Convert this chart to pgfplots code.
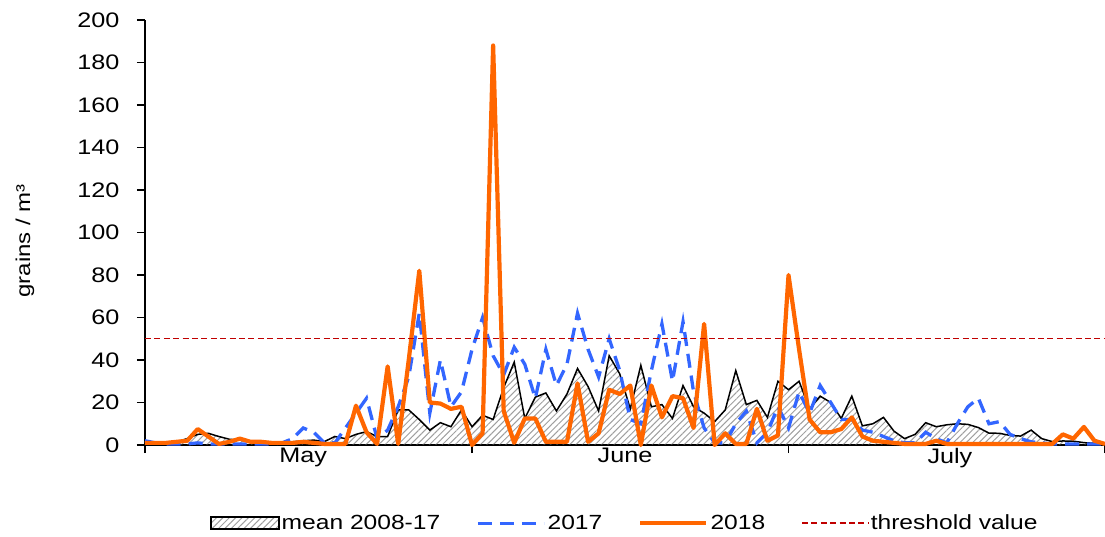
\documentclass[border=0pt]{standalone}
\usepackage{fontspec}
\setmainfont{Liberation Sans}
\newfontfamily\axisfont[FakeStretch=1.2]{Liberation Sans}
\usepackage{pgfplots}
\usepackage{pgfplotstable}
\pgfplotsset{compat=1.18}
\usetikzlibrary{patterns.meta}
\definecolor{cblue}{RGB}{51,102,255}
\definecolor{corange}{RGB}{255,102,0}
\definecolor{cred}{RGB}{192,0,0}
\pgfplotsset{
  mylinelegend/.style={legend image code/.code={\draw[##1] (0bp,0bp) -- (66bp,0bp);}},
  myarealegend/.style={legend image code/.code={\draw[##1] (0bp,-6bp) rectangle (68bp,6bp);}},
}

\pgfplotstableread{
d mean y2017 y2018
0 1 2 1
1 1.2 1 1
2 1.3 0.5 1
3 1.5 0.5 1.5
4 3 0.5 2
5 5 1 7.5
6 5.5 0.5 4
7 4 0.5 0.5
8 2.7 0.5 1.5
9 2.3 0.5 3
10 1.6 0.5 1.5
11 1.4 0.5 1.5
12 1.2 0.5 1
13 1.1 1 1
14 1.5 3 1
15 2 8 1.5
16 2.3 6 1
17 1.6 1 0.5
18 4 1 0.5
19 3 8 0.5
20 5 15 18.5
21 6.3 22 6
22 4 3 0.5
23 4 7 37
24 16.5 18 0.5
25 16.5 32 40
26 12 62 82
27 7 15 20
28 10.5 40 19.5
29 8.6 18 17
30 16.5 25 18
31 8.6 45 0
32 14 60 5.5
33 12 42 188
34 27 33 16
35 39 46 1
36 12.5 38 12.5
37 22.5 22 12.5
38 24.5 45 1.5
39 16 28 1.5
40 24 38 1.5
41 36 62 29
42 27.5 45 1.5
43 16 32 5.5
44 42 50 26
45 33.5 35 24
46 17 12 28
47 37.5 10 0
48 18 35 28
49 19 57 13
50 12.5 30 23
51 28 58 22
52 18 25 8
53 15 8 57
54 11 1 0
55 16.5 1 5.5
56 35 10 0.5
57 19 16 0.5
58 21 1 17
59 13 6 2
60 30 18 4.5
61 26 8 80
62 30 25 45
63 17 15 12
64 23 28 6
65 20 20 6
66 12.5 12 7.5
67 23 12 13
68 9 7 4
69 10 6 2
70 13 4 1.5
71 6.5 2 1
72 3 1 0.5
73 5 1 0.5
74 10.5 6 0.5
75 8.6 3 2
76 9.5 1 0.5
77 10 10 0.5
78 9.7 18 0.5
79 8.2 22 0.5
80 5.6 10 0.5
81 5.5 11 0.5
82 4.5 5 0.5
83 4.2 3 0.5
84 7 1.5 0.5
85 3 1 0.5
86 1.6 0.5 0.5
87 1.9 0.5 5
88 1.8 0.5 3
89 1.1 0.5 8.5
90 0.8 0.5 2
91 0.5 0.5 0.5
}\datatable

\begin{document}
\begin{tikzpicture}
\begin{axis}[
  name=ax,
  at={(0,0)}, anchor=south west,
  scale only axis,
  width=960bp, height=425bp,
  xmin=0, xmax=91, ymin=0, ymax=200,
  clip=false,
  axis lines=left,
  axis line style={-, line width=1.5bp, black},
  tick style={line width=1.5bp, black},
  tick align=outside,
  major tick length=8bp,
  xtick={0,31,61,91},
  xticklabels={},
  extra x ticks={15,45.5,76.3},
  extra x tick labels={May,June,July},
  extra x tick style={major tick length=0pt, tick label style={yshift=0bp}},
  ytick={0,20,...,200},
  /pgf/number format/assume math mode=true,
  tick label style={font=\axisfont\fontsize{21bp}{24bp}\selectfont},
  yticklabel style={xshift=-14bp},
  ylabel={grains / m³},
  ylabel style={at={(axis description cs:-0.125,0.48)}, anchor=center, font=\axisfont\fontsize{20bp}{23bp}\selectfont},
  mylinelegend,
  legend style={at={(axis description cs:0.0646,-0.184)}, anchor=west, draw=none, fill=none,
    legend columns=4, font=\axisfont\fontsize{20.5bp}{24bp}\selectfont,
    /tikz/every even column/.append style={column sep=34bp}},
]
\addplot[draw=black, line width=1.5bp, pattern={Lines[angle=45, distance=4.5bp, line width=1bp]}, pattern color=gray!75, myarealegend]
  table[x=d, y=mean] {\datatable} \closedcycle;
\addlegendentry{mean 2008-17}
\addplot[cblue, line width=3.3bp, dash pattern=on 14bp off 8bp] table[x=d, y=y2017] {\datatable};
\addlegendentry{2017}
\addplot[corange, line width=4.2bp, line join=round] table[x=d, y=y2018] {\datatable};
\addlegendentry{2018}
\addplot[cred, line width=1.5bp, dash pattern=on 6bp off 3.4bp] coordinates {(0,50) (91,50)};
\addlegendentry{threshold value}
\coordinate (bl) at (rel axis cs:0,0);
\end{axis}
\pgfresetboundingbox
\path[use as bounding box] ([shift={(-145bp,-92bp)}]bl) rectangle ([shift={(960bp,445bp)}]bl);
\end{tikzpicture}
\end{document}
